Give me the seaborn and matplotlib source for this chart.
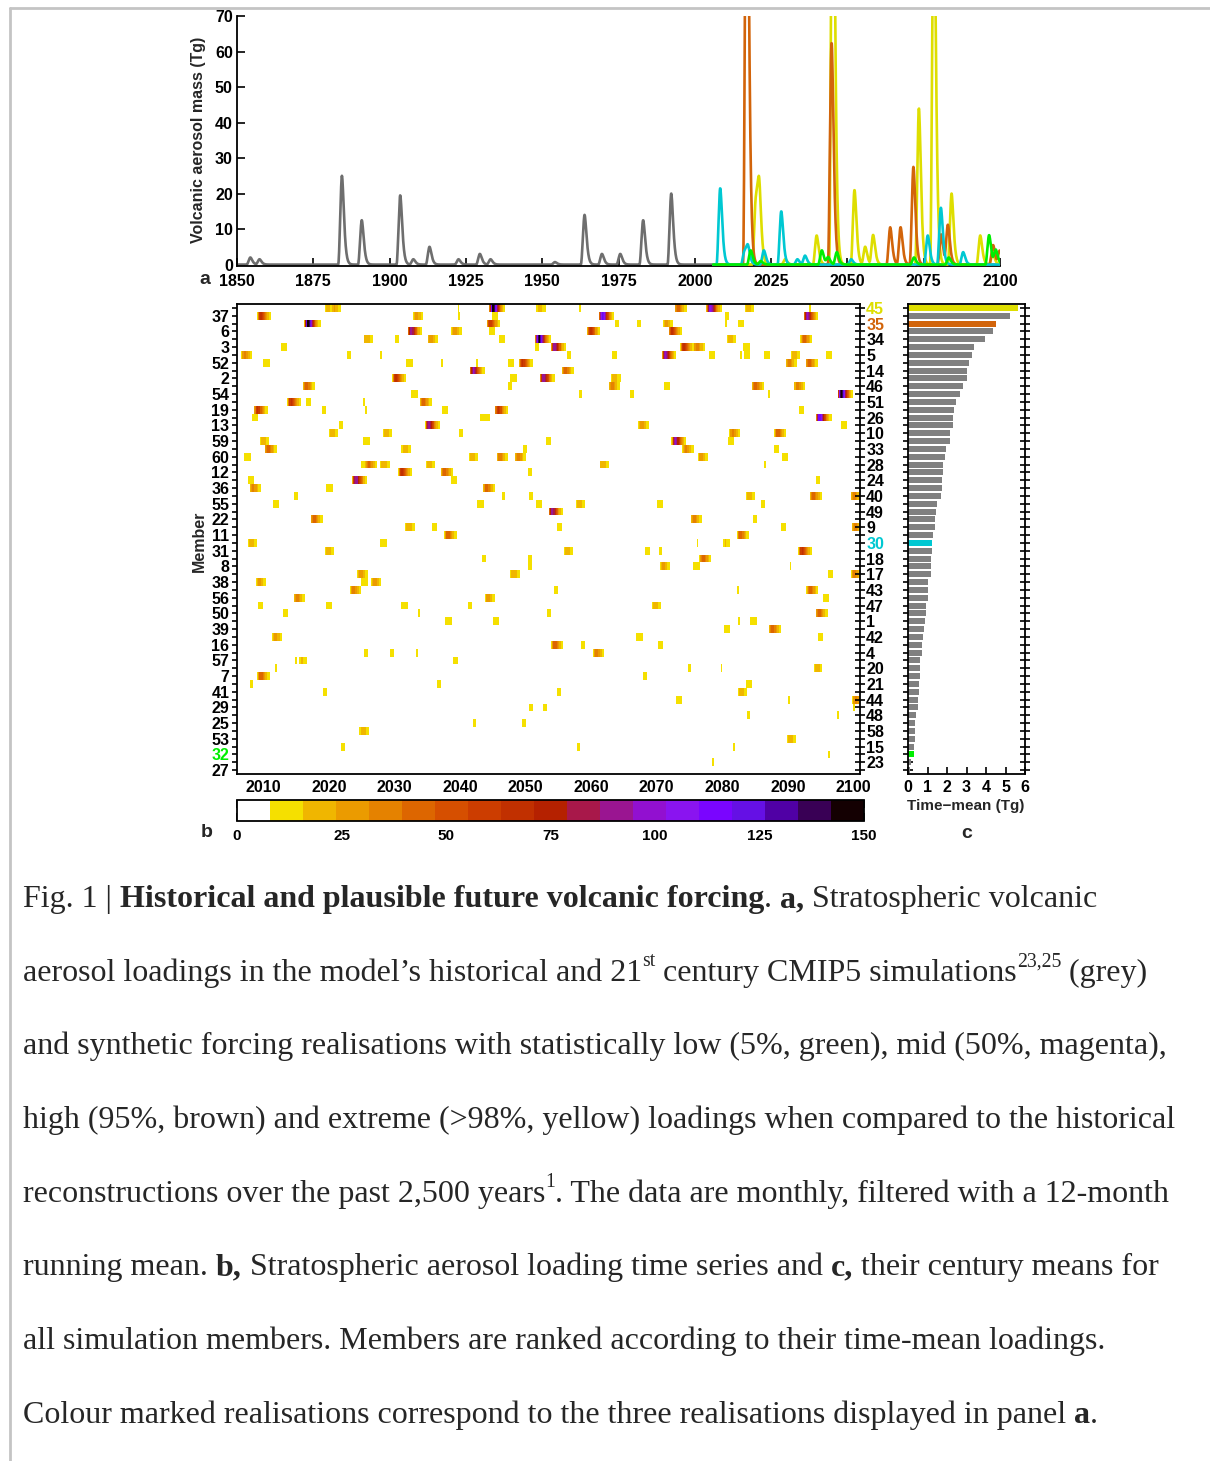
import numpy as np
import pandas as pd
import matplotlib
matplotlib.use("Agg")
import matplotlib.pyplot as plt
from matplotlib import font_manager
from matplotlib.colors import ListedColormap
from matplotlib.lines import Line2D
import seaborn as sns

# members ranked by time-mean loading (top to bottom)
members = [45, 37, 35, 6, 34, 3, 5, 52, 14, 2, 46, 54, 51, 19, 26, 13, 10, 59, 33, 60,
           28, 12, 24, 36, 40, 55, 49, 22, 9, 11, 30, 31, 18, 8, 17, 38, 43, 56, 47, 50,
           1, 39, 42, 16, 4, 57, 20, 7, 21, 41, 44, 29, 48, 25, 58, 53, 15, 32, 23, 27]
time_mean = [5.65, 5.23, 4.52, 4.35, 3.93, 3.40, 3.29, 3.15, 3.00, 3.00,
             2.80, 2.68, 2.45, 2.38, 2.30, 2.30, 2.17, 2.16, 1.97, 1.90,
             1.82, 1.82, 1.76, 1.74, 1.68, 1.48, 1.46, 1.38, 1.38, 1.27,
             1.22, 1.22, 1.20, 1.17, 1.17, 1.05, 1.00, 1.00, 0.94, 0.90,
             0.87, 0.82, 0.77, 0.73, 0.70, 0.61, 0.61, 0.61, 0.56, 0.56,
             0.52, 0.49, 0.43, 0.38, 0.37, 0.35, 0.30, 0.30, 0.17, 0.09]

# historical CMIP5 eruptions: onset year, peak mass (Tg)
hist_onset = [1853.55, 1856.55, 1883.55, 1890.05, 1902.65, 1906.95, 1912.25, 1921.75,
              1928.75, 1932.25, 1953.35, 1963.05, 1968.75, 1974.75, 1982.25, 1991.45]
hist_peak = [2.0, 1.5, 25, 12.5, 19.5, 1.5, 5, 1.5, 3, 1.5, 0.7, 14, 3, 3, 12.5, 20]

# highlighted realisations (onset, peak)
extreme_45 = [(2019.2, 19), (2020.3, 19), (2028.8, 1.5), (2039.1, 8.2), (2044.4, 150),
              (2051.5, 21), (2055.0, 5), (2057.6, 8.3), (2072.6, 44), (2077.5, 110),
              (2083.3, 20), (2092.7, 8.2), (2096.8, 3)]
high_35 = [(2016.2, 150), (2044.0, 62.5), (2063.2, 10.5), (2066.6, 10.5), (2070.8, 27.5),
           (2079.9, 8.5), (2082.1, 11), (2096.9, 5.5), (2099.1, 3.8)]
mid_30 = [(2007.5, 21.5), (2015.5, 4), (2016.6, 4.5), (2021.8, 4), (2027.5, 15),
          (2032.8, 1.5), (2035.3, 2.5), (2050.4, 1.5), (2075.5, 8.2), (2079.8, 16),
          (2087.1, 3.5)]
low_32 = [(2017.5, 4), (2020.8, 1), (2040.8, 4), (2042.9, 2), (2045.7, 3.5), (2071.0, 2),
          (2082.4, 2), (2095.6, 8.3), (2097.8, 4)]

# other members (member, onset, peak)
other_events = [
    (37, 2009.0, 65), (37, 2032.7, 28), (37, 2039.2, 8.3), (37, 2044.6, 12), (37, 2061.1, 120), (37, 2080.0, 10), (37, 2092.3, 95),
    (6, 2031.9, 95), (6, 2038.5, 28), (6, 2044.2, 13), (6, 2059.3, 65), (6, 2071.7, 65),
    (34, 2025.1, 22), (34, 2029.7, 9.5), (34, 2034.9, 28), (34, 2045.6, 13), (34, 2051.4, 145), (34, 2080.5, 22), (34, 2091.8, 45),
    (3, 2012.4, 14), (3, 2051.1, 9.5), (3, 2053.8, 95), (3, 2073.5, 65), (3, 2075.5, 35), (3, 2082.9, 14),
    (5, 2006.5, 35), (5, 2022.3, 9.5), (5, 2027.3, 8.3), (5, 2055.9, 11), (5, 2062.9, 11), (5, 2070.7, 95), (5, 2077.6, 14),
    (5, 2082.2, 8.3), (5, 2083.2, 8.3), (5, 2086.1, 11), (5, 2090.3, 22), (5, 2095.5, 13),
    (52, 2009.7, 14), (52, 2031.5, 14), (52, 2036.6, 8.3), (52, 2041.9, 8.3), (52, 2047.0, 11), (52, 2048.9, 65), (52, 2089.5, 35), (52, 2092.6, 45),
    (14, 2041.4, 95), (14, 2055.4, 45),
    (2, 2029.6, 65), (2, 2047.4, 13), (2, 2052.1, 95), (2, 2062.9, 22),
    (46, 2015.9, 45), (46, 2046.9, 9.5), (46, 2062.5, 35), (46, 2070.8, 13), (46, 2084.4, 45), (46, 2090.8, 35),
    (54, 2032.3, 14), (54, 2057.7, 9.5), (54, 2065.5, 9.5), (54, 2086.4, 8.3), (54, 2097.5, 145),
    (51, 2013.6, 65), (51, 2016.2, 11), (51, 2024.7, 8.3), (51, 2033.7, 45),
    (19, 2008.5, 65), (19, 2018.6, 9.5), (19, 2025.0, 8.3), (19, 2037.0, 13), (19, 2045.2, 65), (19, 2091.3, 11),
    (26, 2008.0, 11), (26, 2042.7, 9.5), (26, 2043.4, 9.5), (26, 2094.2, 120),
    (13, 2021.2, 9.5), (13, 2034.6, 95), (13, 2067.0, 28), (13, 2097.8, 14),
    (10, 2019.8, 22), (10, 2028.1, 22), (10, 2039.4, 9.5), (10, 2080.9, 35), (10, 2087.8, 45),
    (59, 2009.3, 22), (59, 2025.0, 14), (59, 2052.7, 11), (59, 2072.2, 95), (59, 2080.6, 11),
    (33, 2010.1, 45), (33, 2030.9, 22), (33, 2049.2, 9.5), (33, 2073.8, 35), (33, 2087.5, 11),
    (60, 2006.8, 13), (60, 2041.2, 22), (60, 2045.4, 35), (60, 2048.2, 35), (60, 2076.1, 28), (60, 2088.8, 14),
    (28, 2024.6, 14), (28, 2025.5, 35), (28, 2027.7, 22), (28, 2034.6, 22), (28, 2061.1, 22), (28, 2085.8, 8.3),
    (12, 2030.5, 65), (12, 2037.0, 45), (12, 2049.9, 9.5),
    (24, 2007.4, 13), (24, 2023.5, 95), (24, 2038.3, 13), (24, 2093.8, 9.5),
    (36, 2007.8, 35), (36, 2019.3, 14), (36, 2043.4, 45),
    (40, 2014.3, 9.5), (40, 2045.9, 9.5), (40, 2050.2, 9.5), (40, 2083.4, 22), (40, 2093.2, 45), (40, 2099.4, 35),
    (55, 2011.2, 13), (55, 2042.4, 14), (55, 2051.3, 13), (55, 2057.5, 22), (55, 2069.7, 14), (55, 2085.5, 9.5),
    (49, 2053.4, 95),
    (22, 2017.1, 45), (22, 2075.0, 35), (22, 2084.3, 9.5),
    (9, 2031.5, 22), (9, 2035.4, 11), (9, 2054.4, 11), (9, 2088.6, 11), (9, 2099.6, 35),
    (11, 2037.5, 45), (11, 2082.1, 45),
    (31, 2019.2, 22), (31, 2055.7, 22), (31, 2067.8, 11), (31, 2069.9, 8.3), (31, 2091.5, 65),
    (18, 2043.0, 9.5), (18, 2049.9, 9.5), (18, 2076.4, 45),
    (8, 2050.0, 9.5), (8, 2070.3, 28), (8, 2075.3, 14), (8, 2089.7, 8.3),
    (17, 2024.2, 28), (17, 2047.5, 22), (17, 2095.7, 11), (17, 2099.5, 35),
    (38, 2008.7, 28), (38, 2024.6, 14), (38, 2026.3, 28),
    (43, 2023.1, 35), (43, 2053.9, 9.5), (43, 2081.7, 8.3), (43, 2092.7, 45),
    (56, 2014.5, 35), (56, 2043.6, 28), (56, 2095.1, 11),
    (47, 2008.8, 11), (47, 2019.2, 14), (47, 2030.7, 14), (47, 2040.8, 9.5), (47, 2069.1, 22),
    (50, 2012.7, 11), (50, 2033.1, 8.3), (50, 2052.8, 9.5), (50, 2094.1, 45),
    (1, 2037.5, 14), (1, 2044.7, 14), (1, 2081.9, 8.3), (1, 2083.9, 14),
    (39, 2080.0, 11), (39, 2087.0, 45),
    (42, 2011.2, 28), (42, 2066.6, 14), (42, 2094.2, 11),
    (16, 2053.8, 45), (16, 2058.0, 9.5), (16, 2069.9, 11),
    (4, 2025.0, 9.5), (4, 2028.9, 9.5), (4, 2032.8, 8.3), (4, 2060.2, 35),
    (57, 2014.3, 8.3), (57, 2015.3, 14), (57, 2038.6, 11),
    (20, 2011.3, 8.3), (20, 2074.3, 8.3), (20, 2079.2, 8.3), (20, 2093.7, 22),
    (7, 2009.0, 45), (7, 2067.5, 9.5),
    (21, 2007.5, 9.5), (21, 2036.1, 9.5), (21, 2083.3, 14),
    (41, 2018.7, 9.5), (41, 2054.4, 9.5), (41, 2082.2, 22),
    (44, 2072.6, 14), (44, 2089.5, 8.3), (44, 2099.7, 35),
    (29, 2050.2, 9.5), (29, 2052.3, 9.5), (29, 2099.4, 8.3),
    (48, 2083.3, 8.3), (48, 2096.9, 8.3),
    (25, 2041.5, 9.5), (25, 2049.1, 9.5),
    (58, 2024.5, 22),
    (53, 2089.7, 22),
    (15, 2021.5, 9.5), (15, 2057.4, 8.3), (15, 2081.1, 8.3),
    (23, 2077.9, 8.3),
]

cbar_colors = ["#ffffff", "#f5e000", "#f0b600", "#eb9b00", "#e58200", "#dd6600", "#d64f00",
               "#cc3d00", "#c13000", "#b52100", "#a8184a", "#9a1591", "#9210d0", "#8a14f0",
               "#7a05ff", "#6510e5", "#5000a5", "#390055", "#140002"]

hl_colors = {45: "#dede00", 35: "#d2640a", 30: "#00c8d2", 32: "#00ee00"}
hl_events = {45: extreme_45, 35: high_35, 30: mid_30, 32: low_32}


def pulse(t, onset, peak, tp=8 / 12):
    x = np.clip((t - onset) / tp, 0, None)
    return peak * x ** 2 * np.exp(2 * (1 - x))


def series(t, events):
    out = np.zeros_like(t)
    for on, pk in events:
        out += pulse(t, on, pk)
    return out


box12 = np.ones(12) / 12
unit = np.convolve(pulse(np.arange(120) / 12, 2.0, 1.0), box12, mode="same").max()


def running(t, events):
    # 12-month running mean, rescaled so that an isolated event keeps its peak
    return np.convolve(series(t, events), box12, mode="same") / unit


t_all = 1850 + (np.arange(250 * 12) + 0.5) / 12
t_fut = 2006 + (np.arange(95 * 12) + 0.5) / 12

ev = {m: [] for m in members}
for m, on, pk in other_events:
    ev[m].append((on, pk))
ev.update(hl_events)
heat = pd.DataFrame([series(t_fut, ev[m]) for m in members], index=members)

# ---------------------------------------------------------------- style
sns.set_style("ticks")
installed = {f.name for f in font_manager.fontManager.ttflist}
sans = "Liberation Sans Narrow" if "Liberation Sans Narrow" in installed else "Liberation Sans"
plt.rcParams["font.family"] = [sans, "DejaVu Sans"]
plt.rcParams["font.weight"] = "bold"
plt.rcParams["axes.edgecolor"] = "black"
plt.rcParams["axes.linewidth"] = 1.3
plt.rcParams["xtick.color"] = "black"
plt.rcParams["ytick.color"] = "black"
plt.rcParams["xtick.labelsize"] = 11.5
plt.rcParams["ytick.labelsize"] = 11.5

W, H = 1210, 1461
fig = plt.figure(figsize=(W / 100, H / 100), dpi=100)


def box(l, t, r, b):
    return [l / W, 1 - b / H, (r - l) / W, (b - t) / H]


ax_a = fig.add_axes(box(237, 16, 1000, 266))
ax_h = fig.add_axes(box(237, 304, 860, 774))
ax_b = fig.add_axes(box(908, 304, 1025, 774))
cax = fig.add_axes(box(237, 800, 864, 821))

# ---------------------------------------------------------------- panel a
hist = running(t_all, list(zip(hist_onset, hist_peak)))
for m in [45, 35, 30, 32]:
    sns.lineplot(x=t_fut, y=running(t_fut, hl_events[m]), ax=ax_a, color=hl_colors[m],
                 linewidth=1.9, zorder=3)
sns.lineplot(x=t_all, y=hist, ax=ax_a, color="#6e6e6e", linewidth=1.9, zorder=2)
ax_a.set_xlim(1850, 2100)
ax_a.set_ylim(-0.4, 70)
ax_a.set_xticks(range(1850, 2101, 25))
ax_a.set_yticks(range(0, 71, 10))
ax_a.spines["top"].set_visible(False)
ax_a.spines["right"].set_visible(False)
ax_a.tick_params(axis="y", direction="in", length=6, width=1.2, pad=3)
ax_a.tick_params(axis="x", direction="in", length=6, width=1.2, pad=6)
ax_a.set_xlabel("")
ax_a.set_ylabel("")

# ---------------------------------------------------------------- panel b
cmap = ListedColormap(cbar_colors)
sns.heatmap(heat, cmap=cmap, vmin=0, vmax=150, ax=ax_h, cbar_ax=cax,
            cbar_kws={"orientation": "horizontal", "ticks": list(range(0, 151, 25))},
            xticklabels=False, yticklabels=False)
for s in ax_h.spines.values():
    s.set_visible(True)
    s.set_linewidth(1.3)
yrs = list(range(2010, 2101, 10))
ax_h.set_xticks([(y - 2006) * 12 for y in yrs])
ax_h.set_xticklabels([str(y) for y in yrs], rotation=0)
ax_h.tick_params(axis="x", top=True, direction="in", length=5, width=1.2, pad=4)
rows = np.arange(len(members)) + 0.5
ax_h.set_yticks(rows)
ax_h.set_yticklabels([str(m) if i % 2 == 1 else "" for i, m in enumerate(members)],
                     rotation=0)
ax_h.tick_params(axis="y", direction="inout", length=7, width=1.2, pad=2)
ax_h.set_xlabel("")
ax_h.set_ylabel("")

ax_r = ax_h.twinx()
ax_r.set_ylim(ax_h.get_ylim())
ax_r.set_yticks(rows)
ax_r.set_yticklabels([str(m) if i % 2 == 0 else "" for i, m in enumerate(members)])
ax_r.tick_params(axis="y", direction="inout", length=7, width=1.2, pad=1)
for s in ax_r.spines.values():
    s.set_visible(False)
for lab, m in zip(ax_r.get_yticklabels(), members):
    if m in hl_colors:
        lab.set_color(hl_colors[m])
for lab, m in zip(ax_h.get_yticklabels(), members):
    if m in hl_colors:
        lab.set_color(hl_colors[m])

cb = ax_h.collections[0].colorbar
cb.outline.set_linewidth(1.3)
cb.outline.set_edgecolor("black")
cax.tick_params(axis="x", direction="in", length=6, width=1.2, top=True, bottom=True,
                labelsize=11, pad=6)

# ---------------------------------------------------------------- panel c
bar_df = pd.DataFrame({"member": [str(m) for m in members], "mean": time_mean})
palette = {str(m): hl_colors.get(m, "#808080") for m in members}
sns.barplot(data=bar_df, x="mean", y="member", hue="member", palette=palette,
            order=bar_df["member"], legend=False, ax=ax_b, width=0.78,
            edgecolor="none", saturation=1)
ax_b.set_xlim(0, 6)
ax_b.set_ylim(len(members) - 0.5, -0.5)
ax_b.set_xticks(range(0, 7))
ax_b.set_yticks(range(len(members)))
ax_b.set_yticklabels([])
ax_b.tick_params(axis="y", left=True, right=True, direction="inout", length=7, width=1.2)
ax_b.tick_params(axis="x", direction="in", length=5, width=1.2, pad=4)
for s in ax_b.spines.values():
    s.set_visible(True)
    s.set_linewidth(1.3)
ax_b.set_xlabel("")
ax_b.set_ylabel("")

# ---------------------------------------------------------------- labels
def ftext(x, y, s, **kw):
    fig.text(x / W, 1 - y / H, s, **kw)


ftext(199, 140, "Volcanic aerosol mass (Tg)", rotation=90, ha="center", va="center",
      fontsize=11.5)
ftext(199, 541, "Member", rotation=90, ha="center", va="center", fontsize=11.5)
ftext(966, 806, "Time\u2212mean (Tg)", ha="center", va="center", fontsize=11)
ftext(205, 280, "a", ha="center", va="center", fontsize=14)
ftext(207, 832, "b", ha="center", va="center", fontsize=14)
ftext(967, 834, "c", ha="center", va="center", fontsize=14)

# frame lines of the page
fig.add_artist(Line2D([10 / W, 1], [1 - 8 / H, 1 - 8 / H], color="#c4c4c4", lw=2))
fig.add_artist(Line2D([10 / W, 10 / W], [0, 1 - 8 / H], color="#c4c4c4", lw=2))

# ---------------------------------------------------------------- caption
caption = [
    [("Fig. 1 | ", "n"), ("Historical and plausible future volcanic forcing", "b"),
     (". ", "n"), ("a,", "b"), (" Stratospheric volcanic", "n")],
    [("aerosol loadings in the model\u2019s historical and 21", "n"), ("st", "s"),
     (" century CMIP5 simulations", "n"), ("23,25", "s"), (" (grey)", "n")],
    [("and synthetic forcing realisations with statistically low (5%, green), mid (50%, magenta),", "n")],
    [("high (95%, brown) and extreme (>98%, yellow) loadings when compared to the historical", "n")],
    [("reconstructions over the past 2,500 years", "n"), ("1", "s"),
     (". The data are monthly, filtered with a 12-month", "n")],
    [("running mean. ", "n"), ("b,", "b"), (" Stratospheric aerosol loading time series and ", "n"),
     ("c,", "b"), (" their century means for", "n")],
    [("all simulation members. Members are ranked according to their time-mean loadings.", "n")],
    [("Colour marked realisations correspond to the three realisations displayed in panel ", "n"),
     ("a", "b"), (".", "n")],
]
fs = 23
renderer = fig.canvas.get_renderer()
for k, line in enumerate(caption):
    base = 907 + 73.7 * k
    x = 23
    for txt, st in line:
        kw = dict(family=["Liberation Serif", "DejaVu Serif"], fontsize=fs,
                  weight="normal", va="baseline", ha="left")
        y = base
        if st == "b":
            kw["weight"] = "bold"
        if st == "s":
            kw["fontsize"] = fs * 0.62
            y = base - fs * 0.45 * 100 / 72
        t = fig.text(x / W, 1 - y / H, txt, **kw)
        x += t.get_window_extent(renderer).width

fig.savefig("out.png", dpi=100)
